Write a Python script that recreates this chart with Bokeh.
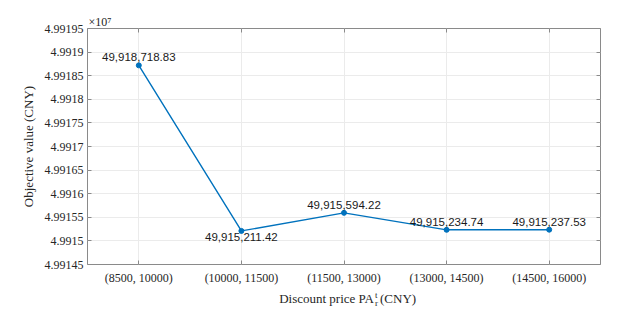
from bokeh.plotting import figure
from bokeh.layouts import column
from bokeh.models import (Range1d, FixedTicker, CustomJSTickFormatter,
                          LinearAxis, ColumnDataSource, Title)
from bokeh.core.properties import value
from bokeh.embed import file_html
from bokeh.resources import INLINE

# ---- data ----
CATEGORIES = ["(8500, 10000)", "(10000, 11500)", "(11500, 13000)",
              "(13000, 14500)", "(14500, 16000)"]
OBJECTIVE = [49918718.83, 49915211.42, 49915594.22, 49915234.74, 49915237.53]
LABEL_ABOVE = [True, False, True, True, True]
Y_TICKS = [49914500, 49915000, 49915500, 49916000, 49916500, 49917000,
           49917500, 49918000, 49918500, 49919000, 49919500]
Y_START, Y_END = 49914500, 49919500
X_TITLE = ["Discount price PA", "t", "r", "(CNY)"]
Y_TITLE = "Objective value (CNY)"
EXPONENT = "\u00d710\u2077"

X_POS = list(range(1, len(CATEGORIES) + 1))
LABELS = [f"{v:,.2f}" for v in OBJECTIVE]

BLUE = "#0072BD"
BOX = "#8a8a8a"
GRID = "#ebebeb"
TXT = "#262626"
SERIF = "Liberation Serif"
SANS = "Liberation Sans"
W = 623
BL, BR = 87, 23

xr = Range1d(0.5, len(CATEGORIES) + 0.5)

# ---------- main plot ----------
p = figure(width=W, height=287, x_range=xr,
           y_range=Range1d(Y_START, Y_END), output_backend="svg", toolbar_location=None,
           min_border_left=BL, min_border_right=BR, min_border_top=28, min_border_bottom=22)
p.outline_line_color = BOX
p.outline_line_width = 1
p.background_fill_color = "white"
p.border_fill_color = "white"

p.xgrid.grid_line_color = GRID
p.xgrid.ticker = FixedTicker(ticks=X_POS)
p.ygrid.grid_line_color = GRID
p.ygrid.ticker = FixedTicker(ticks=Y_TICKS)

xa = p.xaxis[0]
xa.ticker = FixedTicker(ticks=X_POS)
xa.major_label_overrides = {x: c for x, c in zip(X_POS, CATEGORIES)}
xa.axis_line_color = None
xa.major_tick_line_color = BOX
xa.major_tick_in = 4
xa.major_tick_out = 0
xa.minor_tick_line_color = None
xa.major_label_standoff = 6
xa.major_label_text_font = SERIF
xa.major_label_text_font_size = "12px"
xa.major_label_text_color = TXT

ya = p.yaxis[0]
ya.ticker = FixedTicker(ticks=Y_TICKS)
ya.formatter = CustomJSTickFormatter(code="return parseFloat((tick/1e7).toFixed(6)).toString();")
ya.axis_line_color = None
ya.major_tick_line_color = BOX
ya.major_tick_in = 4
ya.major_tick_out = 0
ya.minor_tick_line_color = None
ya.major_label_standoff = 4
ya.major_label_text_font = SERIF
ya.major_label_text_font_size = "12px"
ya.major_label_text_color = TXT
ya.axis_label = Y_TITLE
ya.axis_label_text_font = SERIF
ya.axis_label_text_font_size = "13px"
ya.axis_label_text_font_style = "normal"
ya.axis_label_text_color = TXT
ya.axis_label_standoff = 6

empty = CustomJSTickFormatter(code="return '';")
top = LinearAxis(ticker=FixedTicker(ticks=X_POS),
                 formatter=empty, axis_line_color=None, major_tick_line_color=BOX,
                 major_tick_in=4, major_tick_out=0, minor_tick_line_color=None,
                 major_label_standoff=0, major_label_text_font_size="1px")
p.add_layout(top, "above")
right = LinearAxis(ticker=FixedTicker(ticks=Y_TICKS), formatter=empty, axis_line_color=None,
                   major_tick_line_color=BOX, major_tick_in=4, major_tick_out=0,
                   minor_tick_line_color=None, major_label_standoff=0,
                   major_label_text_font_size="1px")
p.add_layout(right, "right")

# exponent (x10^7) above the top-left corner of the box
p.add_layout(Title(text=EXPONENT, align="left", offset=1, standoff=0, text_font=SERIF,
                   text_font_size="12px", text_font_style="normal", text_color=TXT), "above")

src = ColumnDataSource(dict(x=X_POS, y=OBJECTIVE, label=LABELS))
p.line("x", "y", source=src, line_color=BLUE, line_width=1.4)
p.scatter("x", "y", source=src, size=5, fill_color=BLUE, line_color=BLUE)

above_idx = [i for i, a in enumerate(LABEL_ABOVE) if a]
below_idx = [i for i, a in enumerate(LABEL_ABOVE) if not a]
src_a = ColumnDataSource(dict(x=[X_POS[i] for i in above_idx], y=[OBJECTIVE[i] for i in above_idx],
                              label=[LABELS[i] for i in above_idx]))
src_b = ColumnDataSource(dict(x=[X_POS[i] for i in below_idx], y=[OBJECTIVE[i] for i in below_idx],
                              label=[LABELS[i] for i in below_idx]))
p.text("x", "y", text="label", source=src_a, text_align="center", text_baseline="bottom",
       y_offset=-4, text_font=value(SANS), text_font_size="11.5px", text_color="#1a1a1a")
p.text("x", "y", text="label", source=src_b, text_align="center", text_baseline="top",
       y_offset=2, text_font=value(SANS), text_font_size="11.5px", text_color="#1a1a1a")

# ---------- bottom strip: x-axis title with sub/superscript ----------
H_B = 24
pb = figure(width=W, height=H_B, x_range=xr, y_range=Range1d(0, H_B),
            output_backend="svg", toolbar_location=None,
            x_axis_location=None, y_axis_location=None,
            min_border_left=BL, min_border_right=BR, min_border_top=0, min_border_bottom=0)
pb.grid.visible = False
pb.outline_line_color = None
pb.background_fill_color = "white"
pb.border_fill_color = "white"


def txt(f, x, y, s, size, align, dx):
    f.text(x=[x], y=[y], text=[s], x_offset=dx, text_align=align, text_baseline="alphabetic",
           text_font=value(SERIF), text_font_size=size, text_color=TXT)


mid = (len(CATEGORIES) + 1) / 2
txt(pb, mid, 13, X_TITLE[0], "13px", "right", 30)
txt(pb, mid, 17, X_TITLE[1], "9px", "left", 31)
txt(pb, mid, 9, X_TITLE[2], "9px", "left", 31)
txt(pb, mid, 13, X_TITLE[3], "13px", "left", 36)

layout = column(p, pb, spacing=0)
open("out.html", "w").write(file_html(layout, INLINE))
